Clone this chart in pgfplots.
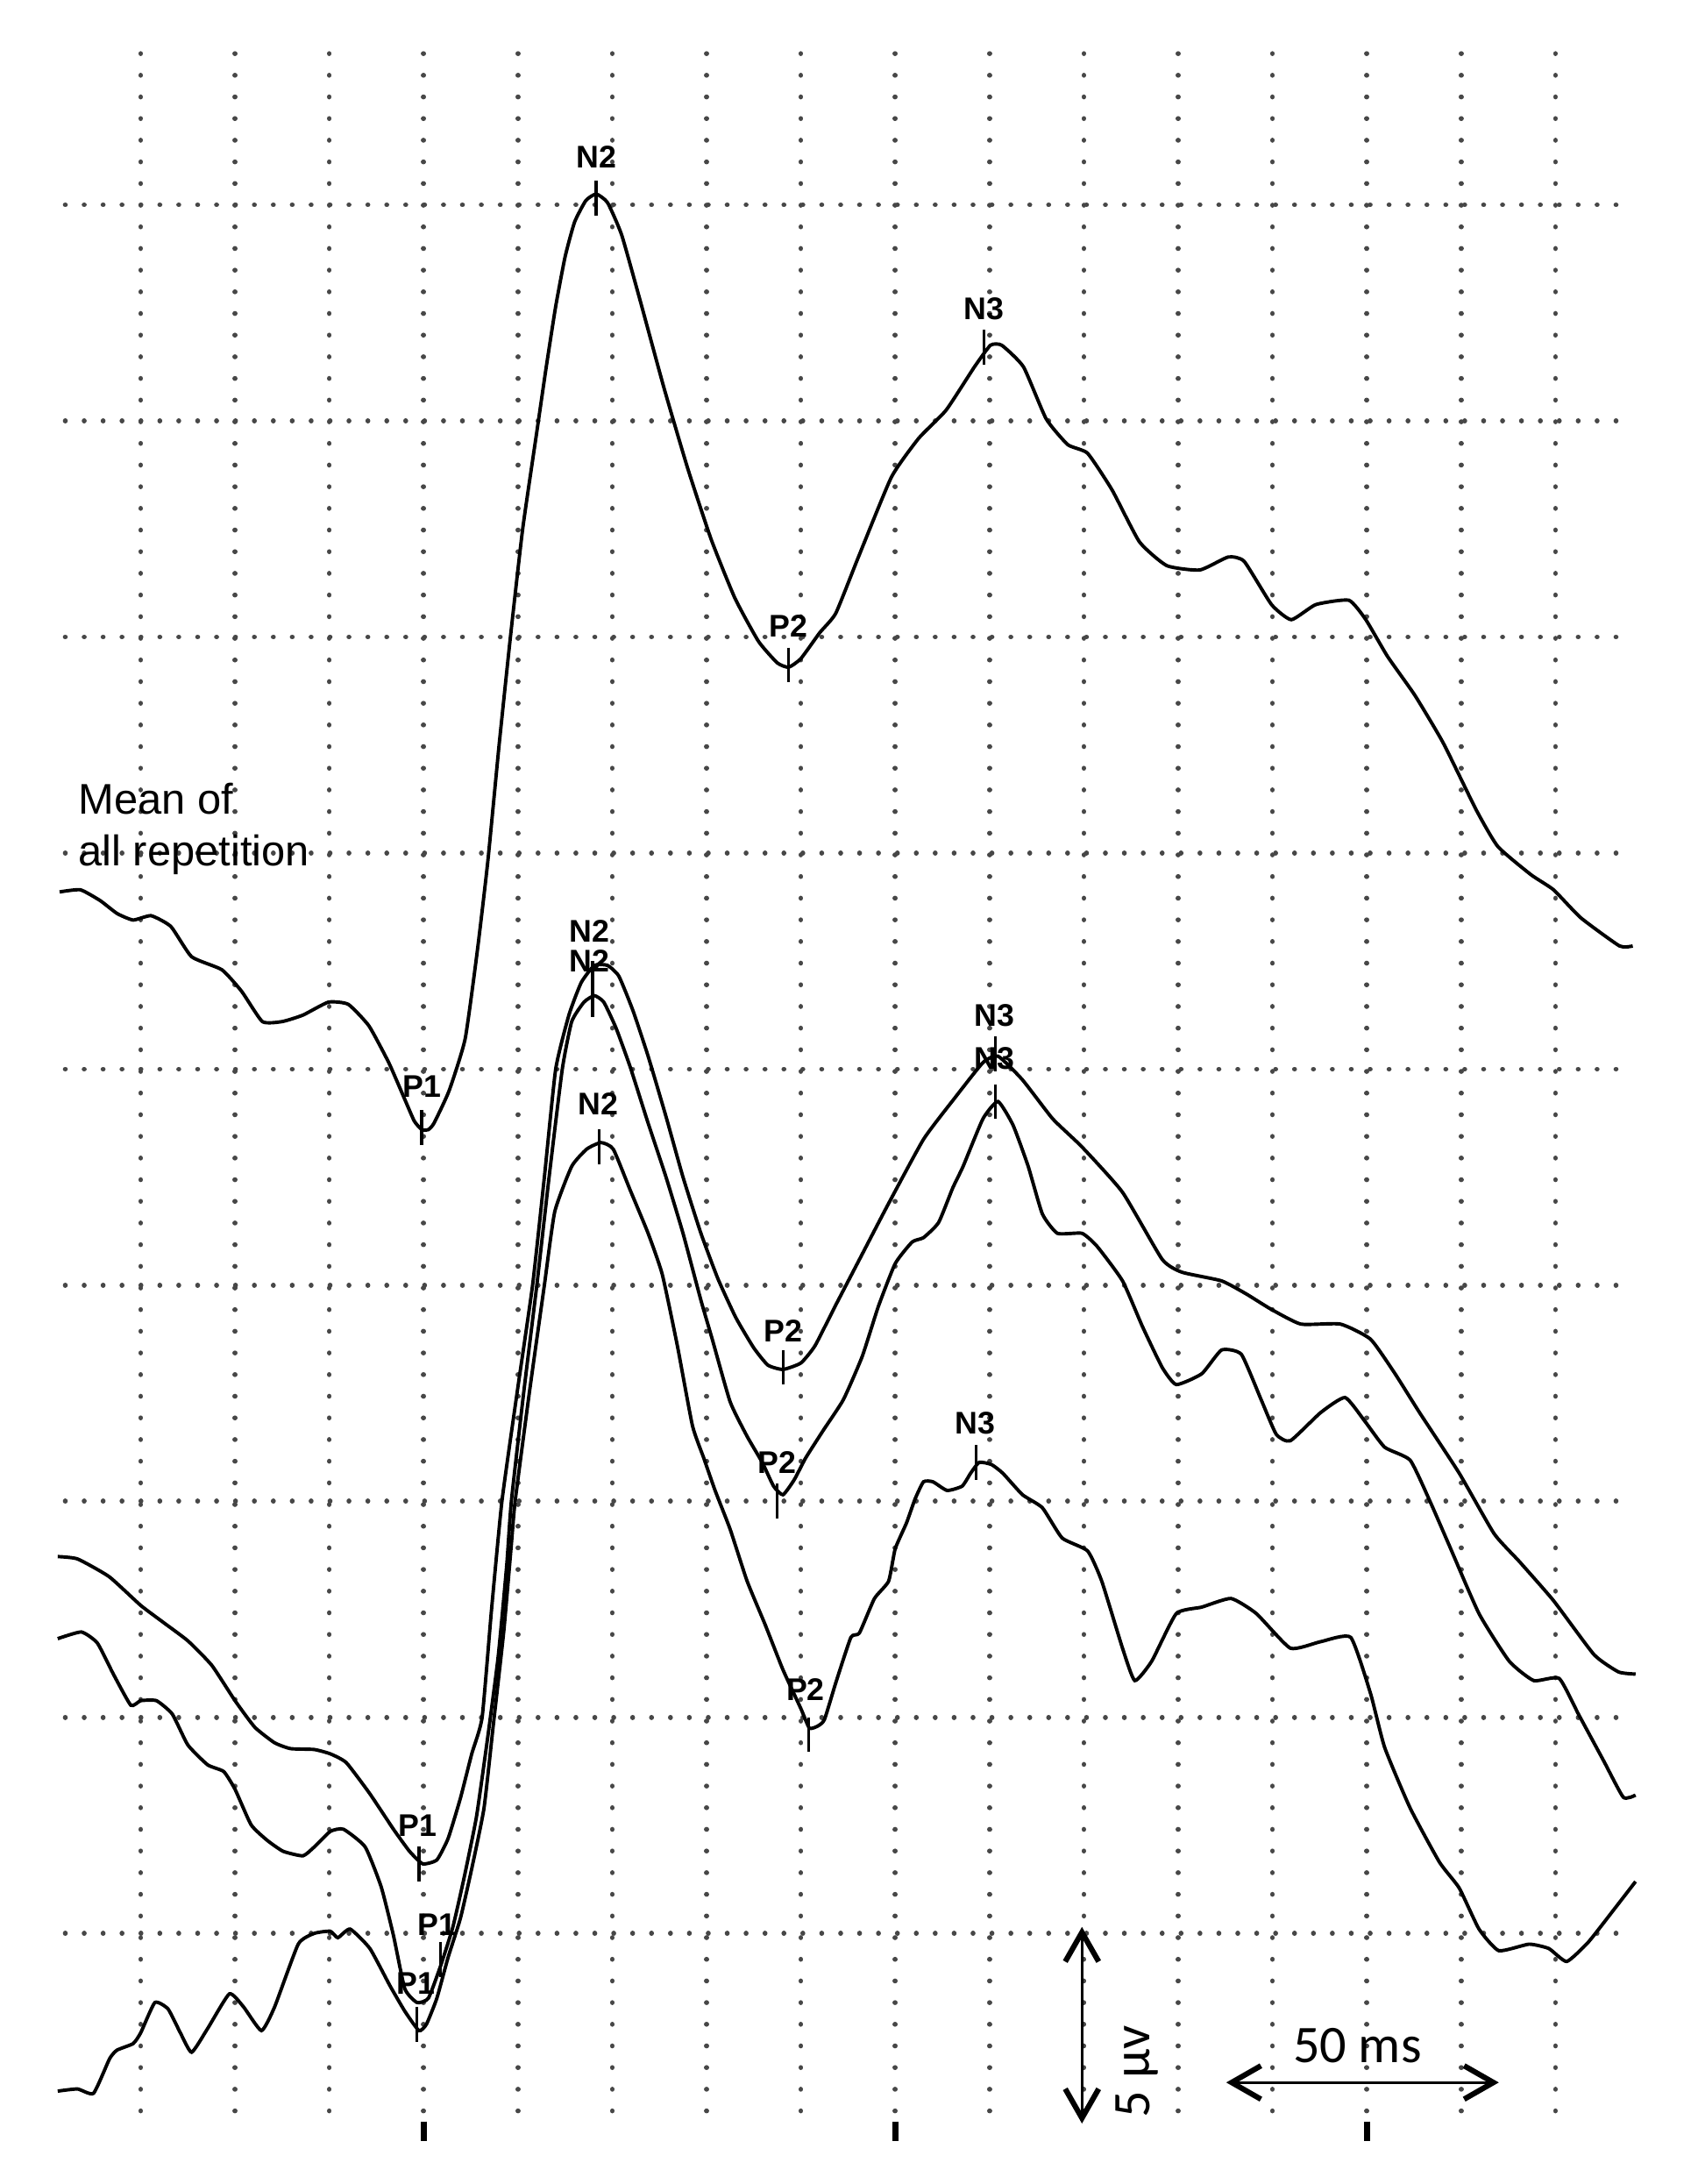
\documentclass[border=0pt]{standalone}
\usepackage{pgfplots}
\pgfplotsset{compat=1.18}
\usepackage{fontspec}
\setmainfont{Liberation Sans}
\newfontfamily\calibri{Carlito}
\usetikzlibrary{arrows.meta}
\tikzset{
  curve/.style={black, line width=0.7pt, smooth, tension=0.3},
  vgrid/.style={black!72, line width=1.0pt, line cap=round, dash pattern=on 0.01pt off 1.5512mm},
  hgrid/.style={black!72, line width=1.0pt, line cap=round, dash pattern=on 0.01pt off 1.3544mm},
  lab/.style={font=\fontsize{6.4}{7}\selectfont\bfseries, inner sep=0pt},
  sbar/.style={line width=0.6pt, {Straight Barb[length=2.1mm,width=2.4mm,line width=1.1pt]}-{Straight Barb[length=2.1mm,width=2.4mm,line width=1.1pt]}},
}
\begin{document}
\begin{tikzpicture}
\begin{axis}[
  x=0.6772cm, y=1.5512cm, y dir=reverse,
  xmin=-1.492, xmax=16.51, ymin=-0.948, ymax=9.16,
  axis line style={draw=none}, ticks=none, clip=false,
]
\path (rel axis cs:0,0) rectangle (rel axis cs:1,1);
% dotted grid
\pgfplotsinvokeforeach{0,...,15}{\draw[vgrid] (axis cs:#1,-0.7) -- (axis cs:#1,8.9);}
\pgfplotsinvokeforeach{0,...,8}{\draw[hgrid] (axis cs:-0.8,#1) -- (axis cs:15.8,#1);}
\pgfplotsinvokeforeach{3,8,13}{\draw[black, line width=1.3pt] (axis cs:#1,8.87) -- (axis cs:#1,8.96);}

% Mean of all repetition
\addplot[curve] table {
-0.86 3.18
-0.64 3.17
-0.43 3.22
-0.25 3.28
-0.08 3.31
0.11 3.29
0.32 3.34
0.54 3.48
0.86 3.54
1.07 3.64
1.29 3.78
1.50 3.78
1.72 3.75
1.99 3.69
2.20 3.70
2.42 3.80
2.63 3.97
2.79 4.13
2.90 4.24
2.98 4.28
3.05 4.28
3.11 4.25
3.27 4.10
3.44 3.86
3.57 3.45
3.68 3.04
3.80 2.50
3.92 2.00
4.05 1.50
4.20 1.05
4.30 0.75
4.40 0.47
4.50 0.24
4.60 0.08
4.72 -0.02
4.83 -0.05
4.95 -0.01
5.10 0.14
5.30 0.45
5.55 0.85
5.80 1.22
6.05 1.55
6.30 1.82
6.55 2.02
6.75 2.12
6.87 2.14
7.00 2.10
7.20 1.98
7.37 1.89
7.61 1.63
7.96 1.26
8.25 1.08
8.54 0.95
8.84 0.75
9.01 0.65
9.13 0.65
9.36 0.75
9.60 0.99
9.83 1.11
10.04 1.15
10.30 1.32
10.59 1.56
10.88 1.67
11.23 1.69
11.53 1.63
11.70 1.65
11.99 1.85
12.20 1.92
12.46 1.85
12.81 1.83
12.99 1.92
13.22 2.09
13.51 2.27
13.81 2.49
14.16 2.80
14.39 2.97
14.74 3.10
14.98 3.17
15.27 3.30
15.68 3.43
15.82 3.43
};

% Curve A
\addplot[curve] table {
-0.88 6.256
-0.67 6.267
-0.335 6.349
0 6.482
0.25 6.564
0.50 6.646
0.753 6.759
1.0 6.923
1.21 7.046
1.42 7.118
1.59 7.145
1.84 7.149
2.01 7.169
2.18 7.21
2.43 7.354
2.68 7.518
2.85 7.62
2.99 7.678
3.14 7.66
3.26 7.56
3.39 7.374
3.51 7.169
3.62 7.0
3.72 6.5
3.83 6.0
3.99 5.5
4.155 5.0
4.28 4.5
4.40 4.0
4.54 3.75
4.67 3.60
4.81 3.52
4.95 3.52
5.07 3.57
5.22 3.73
5.38 3.94
5.57 4.22
5.75 4.50
5.94 4.76
6.12 4.97
6.31 5.15
6.50 5.29
6.65 5.37
6.81 5.39
7.0 5.36
7.15 5.28
7.36 5.10
7.61 4.89
7.92 4.63
8.30 4.325
8.62 4.14
8.93 3.97
9.09 3.94
9.35 4.05
9.67 4.23
9.98 4.36
10.41 4.57
10.83 4.88
11.04 4.94
11.46 4.98
11.72 5.04
11.98 5.11
12.30 5.18
12.72 5.18
13.04 5.25
13.30 5.41
13.56 5.59
13.98 5.87
14.35 6.15
14.62 6.28
14.98 6.46
15.41 6.71
15.67 6.79
15.85 6.80
};

% Curve B
\addplot[curve] table {
-0.88 6.636
-0.63 6.605
-0.46 6.656
-0.29 6.80
-0.105 6.944
0 6.923
0.167 6.923
0.335 6.985
0.50 7.128
0.71 7.22
0.88 7.251
1.0 7.333
1.17 7.497
1.34 7.569
1.51 7.62
1.72 7.641
1.84 7.60
2.01 7.528
2.15 7.518
2.38 7.60
2.55 7.785
2.68 8.01
2.80 8.256
2.93 8.32
3.05 8.30
3.18 8.15
3.31 7.97
3.43 7.74
3.56 7.46
3.68 7.09
3.79 6.72
3.88 6.30
3.93 6.0
4.06 5.5
4.20 5.0
4.33 4.5
4.47 4.0
4.57 3.78
4.70 3.69
4.81 3.66
4.91 3.69
5.04 3.81
5.19 3.99
5.38 4.25
5.57 4.50
5.75 4.76
5.94 5.07
6.06 5.25
6.25 5.54
6.43 5.70
6.59 5.82
6.71 5.93
6.81 5.97
6.93 5.90
7.05 5.80
7.24 5.67
7.45 5.53
7.65 5.33
7.82 5.10
8.00 4.90
8.18 4.80
8.30 4.78
8.46 4.71
8.61 4.55
8.72 4.45
8.93 4.23
9.09 4.15
9.25 4.26
9.41 4.45
9.56 4.67
9.72 4.76
9.98 4.76
10.14 4.82
10.41 4.98
10.62 5.19
10.83 5.38
10.98 5.46
11.25 5.41
11.46 5.30
11.67 5.32
11.88 5.53
12.04 5.69
12.19 5.72
12.51 5.59
12.77 5.52
12.98 5.63
13.19 5.75
13.46 5.81
13.67 6.0
13.88 6.21
14.19 6.52
14.51 6.74
14.77 6.83
15.04 6.82
15.25 6.99
15.51 7.20
15.72 7.37
15.85 7.36
};

% Curve C
\addplot[curve] table {
-0.88 8.73
-0.67 8.72
-0.50 8.74
-0.33 8.58
-0.25 8.54
-0.08 8.51
0 8.46
0.15 8.32
0.29 8.35
0.42 8.46
0.54 8.55
0.71 8.44
0.94 8.28
1.09 8.34
1.28 8.45
1.42 8.34
1.67 8.05
1.84 8.00
2.01 7.99
2.09 8.02
2.22 7.98
2.43 8.07
2.64 8.24
2.80 8.36
2.95 8.45
3.03 8.42
3.14 8.30
3.26 8.11
3.39 7.93
3.51 7.70
3.64 7.42
3.74 7.03
3.85 6.60
3.93 6.20
3.97 6.00
4.12 5.50
4.28 5.00
4.39 4.66
4.57 4.45
4.73 4.37
4.88 4.34
5.01 4.37
5.19 4.56
5.38 4.76
5.53 4.95
5.69 5.28
5.85 5.65
5.97 5.80
6.09 5.95
6.25 6.13
6.43 6.37
6.62 6.57
6.81 6.78
7.00 6.96
7.09 7.05
7.18 7.04
7.25 7.01
7.37 6.84
7.53 6.63
7.62 6.61
7.78 6.45
7.93 6.37
8.00 6.22
8.12 6.10
8.21 5.99
8.30 5.91
8.40 5.91
8.55 5.95
8.71 5.93
8.80 5.87
8.89 5.82
9.02 5.83
9.14 5.87
9.35 5.97
9.56 6.03
9.77 6.17
10.04 6.23
10.19 6.37
10.41 6.68
10.54 6.83
10.72 6.74
10.98 6.52
11.25 6.49
11.56 6.45
11.83 6.52
12.19 6.68
12.51 6.65
12.83 6.63
13.04 6.89
13.19 7.14
13.46 7.42
13.77 7.67
13.98 7.79
14.19 7.98
14.40 8.08
14.72 8.05
14.93 8.07
15.12 8.13
15.35 8.04
15.62 7.89
15.85 7.76
};

% peak marker ticks
\addplot[only marks, mark=|, mark size=1.25mm, mark options={line width=0.6pt, black}] table {
4.83 -0.03
6.87 2.13
8.94 0.66
2.98 4.27
4.79 3.58
4.79 3.68
4.86 4.36
6.81 5.38
6.75 6.00
7.08 7.08
9.06 3.93
9.06 4.15
8.86 5.82
2.95 7.68
3.18 8.12
2.93 8.42
};

% peak labels
\node[lab] at (axis cs:4.83,-0.22) {N2};
\node[lab] at (axis cs:6.87,1.95) {P2};
\node[lab] at (axis cs:8.94,0.48) {N3};
\node[lab] at (axis cs:2.98,4.08) {P1};
\node[lab] at (axis cs:4.76,3.36) {N2};
\node[lab] at (axis cs:4.76,3.50) {N2};
\node[lab] at (axis cs:4.85,4.16) {N2};
\node[lab] at (axis cs:6.81,5.21) {P2};
\node[lab] at (axis cs:6.75,5.82) {P2};
\node[lab] at (axis cs:7.05,6.87) {P2};
\node[lab] at (axis cs:9.05,3.75) {N3};
\node[lab] at (axis cs:9.05,3.95) {N3};
\node[lab] at (axis cs:8.85,5.64) {N3};
\node[lab] at (axis cs:2.94,7.50) {P1};
\node[lab] at (axis cs:3.14,7.96) {P1};
\node[lab] at (axis cs:2.92,8.23) {P1};

% caption text
\node[anchor=base west, inner sep=0pt, font=\fontsize{8.75}{10}\selectfont] at (axis cs:-0.67,2.82) {Mean of};
\node[anchor=base west, inner sep=0pt, font=\fontsize{8.75}{10}\selectfont] at (axis cs:-0.67,3.06) {all repetition};

% scale bars
\draw[sbar] (axis cs:9.98,7.97) -- (axis cs:9.98,8.88);
\node[rotate=90, inner sep=0pt, font=\calibri\fontsize{10.8}{12}\selectfont] at (axis cs:10.56,8.64) {5 µv};
\draw[sbar] (axis cs:11.51,8.69) -- (axis cs:14.40,8.69);
\node[inner sep=0pt, font=\calibri\fontsize{10.8}{12}\selectfont] at (axis cs:12.9,8.52) {50 ms};
\end{axis}
\end{tikzpicture}
\end{document}
